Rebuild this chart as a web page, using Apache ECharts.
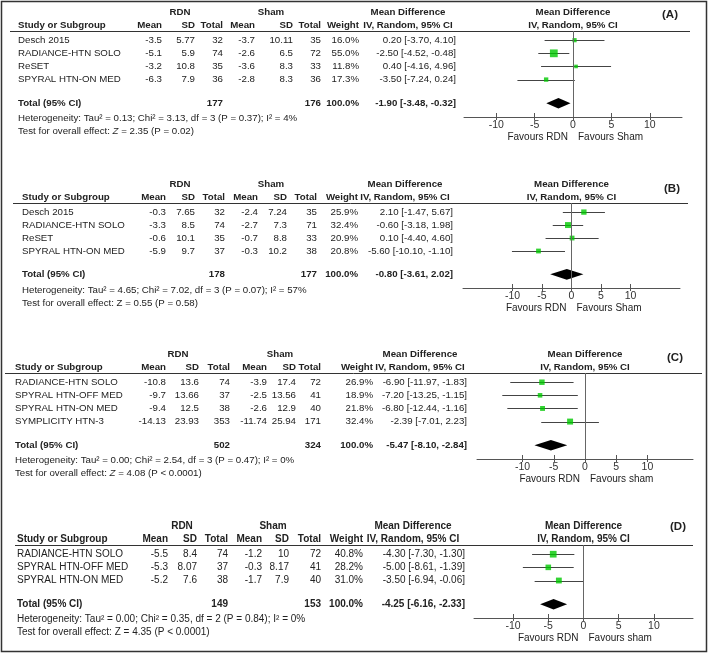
<!DOCTYPE html>
<html><head><meta charset="utf-8">
<script src="https://cdn.jsdelivr.net/npm/echarts@6/dist/echarts.min.js"></script>
<style>html,body{margin:0;padding:0;background:#fff}#c{width:709px;height:654px}</style>
</head><body><div id="c"></div>
<script>
// ---------- Panel A ----------
const A_study = ['Desch 2015','RADIANCE-HTN SOLO','ReSET','SPYRAL HTN-ON MED'];
const A_rdnMean = [-3.5,-5.1,-3.2,-6.3];
const A_rdnSD = [5.77,5.9,10.8,7.9];
const A_rdnN = [32,74,35,36];
const A_shamMean = [-3.7,-2.6,-3.6,-2.8];
const A_shamSD = [10.11,6.5,8.3,8.3];
const A_shamN = [35,72,33,36];
const A_weight = [16.0,55.0,11.8,17.3];
const A_md = [0.20,-2.50,0.40,-3.50];
const A_lo = [-3.70,-4.52,-4.16,-7.24];
const A_hi = [4.10,-0.48,4.96,0.24];
const A_totals = [177,176];
const A_pooled = [-1.90,-3.48,-0.32];
const A_het = 'Heterogeneity: Tau² = 0.13; Chi² = 3.13, df = 3 (P = 0.37); I² = 4%';
const A_test = ['2.35','(P = 0.02)'];

// ---------- Panel B ----------
const B_study = ['Desch 2015','RADIANCE-HTN SOLO','ReSET','SPYRAL HTN-ON MED'];
const B_rdnMean = [-0.3,-3.3,-0.6,-5.9];
const B_rdnSD = [7.65,8.5,10.1,9.7];
const B_rdnN = [32,74,35,37];
const B_shamMean = [-2.4,-2.7,-0.7,-0.3];
const B_shamSD = [7.24,7.3,8.8,10.2];
const B_shamN = [35,71,33,38];
const B_weight = [25.9,32.4,20.9,20.8];
const B_md = [2.10,-0.60,0.10,-5.60];
const B_lo = [-1.47,-3.18,-4.40,-10.10];
const B_hi = [5.67,1.98,4.60,-1.10];
const B_totals = [178,177];
const B_pooled = [-0.80,-3.61,2.02];
const B_het = 'Heterogeneity: Tau² = 4.65; Chi² = 7.02, df = 3 (P = 0.07); I² = 57%';
const B_test = ['0.55','(P = 0.58)'];

// ---------- Panel C ----------
const C_study = ['RADIANCE-HTN SOLO','SPYRAL HTN-OFF MED','SPYRAL HTN-ON MED','SYMPLICITY HTN-3'];
const C_rdnMean = [-10.8,-9.7,-9.4,-14.13];
const C_rdnSD = [13.6,13.66,12.5,23.93];
const C_rdnN = [74,37,38,353];
const C_shamMean = [-3.9,-2.5,-2.6,-11.74];
const C_shamSD = [17.4,13.56,12.9,25.94];
const C_shamN = [72,41,40,171];
const C_weight = [26.9,18.9,21.8,32.4];
const C_md = [-6.90,-7.20,-6.80,-2.39];
const C_lo = [-11.97,-13.25,-12.44,-7.01];
const C_hi = [-1.83,-1.15,-1.16,2.23];
const C_totals = [502,324];
const C_pooled = [-5.47,-8.10,-2.84];
const C_het = 'Heterogeneity: Tau² = 0.00; Chi² = 2.54, df = 3 (P = 0.47); I² = 0%';
const C_test = ['4.08','(P < 0.0001)'];

// ---------- Panel D ----------
const D_study = ['RADIANCE-HTN SOLO','SPYRAL HTN-OFF MED','SPYRAL HTN-ON MED'];
const D_rdnMean = [-5.5,-5.3,-5.2];
const D_rdnSD = [8.4,8.07,7.6];
const D_rdnN = [74,37,38];
const D_shamMean = [-1.2,-0.3,-1.7];
const D_shamSD = [10,8.17,7.9];
const D_shamN = [72,41,40];
const D_weight = [40.8,28.2,31.0];
const D_md = [-4.30,-5.00,-3.50];
const D_lo = [-7.30,-8.61,-6.94];
const D_hi = [-1.30,-1.39,-0.06];
const D_totals = [149,153];
const D_pooled = [-4.25,-6.16,-2.33];
const D_het = 'Heterogeneity: Tau² = 0.00; Chi² = 0.35, df = 2 (P = 0.84); I² = 0%';
const D_test = ['4.35','(P < 0.0001)'];

const tickValues = [-10,-5,0,5,10];
const headerCols = ['Mean','SD','Total','Mean','SD','Total','Weight'];

const panels = [
  {tag:'(A)', study:A_study, rm:A_rdnMean, rs:A_rdnSD, rn:A_rdnN, sm:A_shamMean, ss:A_shamSD, sn:A_shamN, w:A_weight, md:A_md, lo:A_lo, hi:A_hi, tot:A_totals, pool:A_pooled, het:A_het, test:A_test, fav:['Favours RDN','Favours Sham']},
  {tag:'(B)', study:B_study, rm:B_rdnMean, rs:B_rdnSD, rn:B_rdnN, sm:B_shamMean, ss:B_shamSD, sn:B_shamN, w:B_weight, md:B_md, lo:B_lo, hi:B_hi, tot:B_totals, pool:B_pooled, het:B_het, test:B_test, fav:['Favours RDN','Favours Sham']},
  {tag:'(C)', study:C_study, rm:C_rdnMean, rs:C_rdnSD, rn:C_rdnN, sm:C_shamMean, ss:C_shamSD, sn:C_shamN, w:C_weight, md:C_md, lo:C_lo, hi:C_hi, tot:C_totals, pool:C_pooled, het:C_het, test:C_test, fav:['Favours RDN','Favours sham']},
  {tag:'(D)', study:D_study, rm:D_rdnMean, rs:D_rdnSD, rn:D_rdnN, sm:D_shamMean, ss:D_shamSD, sn:D_shamN, w:D_weight, md:D_md, lo:D_lo, hi:D_hi, tot:D_totals, pool:D_pooled, het:D_het, test:D_test, fav:['Favours RDN','Favours sham']}
];

// layout (pixel positions, sizes)
const layout = [
  {line:31, axisY:117, left:464, right:682, min:-14.2, max:14.2, studyX:18, cols:[162,195,223,255,293,321,359], ciX:456, mdX:408, rdnX:180, shamX:271, lineX:[10,690], tagXY:[670,15], fs:9.7, italicZ:true},
  {line:203, axisY:288, left:463, right:680, min:-18.4, max:18.4, studyX:22, cols:[166,195,225,258,287,317,358], ciX:453, mdX:405, rdnX:180, shamX:271, lineX:[13,688], tagXY:[672,189], fs:9.7, italicZ:false},
  {line:373, axisY:459, left:477, right:693, min:-17.3, max:17.3, studyX:15, cols:[166,199,230,267,296,321,373], ciX:467, mdX:420, rdnX:178, shamX:280, lineX:[5,702], tagXY:[675,358], fs:9.7, italicZ:true},
  {line:545, axisY:618, left:474, right:693, min:-15.55, max:15.55, studyX:17, cols:[168,197,228,262,289,321,363], ciX:465, mdX:413, rdnX:182, shamX:273, lineX:[15,693], tagXY:[678,527], fs:10, italicZ:false}
];

const FONT = '"Liberation Sans", Arial, Helvetica, sans-serif';
const chart = echarts.init(document.getElementById('c'), null, {renderer:'canvas'});

const grids=[], xAxes=[], yAxes=[], series=[];
panels.forEach((p,i)=>{
  const L = layout[i], n = p.study.length;
  grids.push({left:L.left, top:L.line, width:L.right-L.left, height:L.axisY-L.line, containLabel:false});
  xAxes.push({gridIndex:i, type:'value', min:L.min, max:L.max, position:'bottom',
    axisLine:{show:true, onZero:false, lineStyle:{color:'#555', width:1}},
    axisTick:{show:true, length:3, customValues:tickValues, lineStyle:{color:'#555'}},
    axisLabel:{show:true, customValues:tickValues, fontSize:10.5, color:'#333', margin:3, fontFamily:FONT},
    splitLine:{show:false}});
  xAxes.push({gridIndex:i, type:'value', min:L.min, max:L.max, position:'bottom',
    axisLine:{show:false, onZero:false},
    axisTick:{show:true, inside:true, length:4, customValues:tickValues, lineStyle:{color:'#555'}},
    axisLabel:{show:false}, splitLine:{show:false}});
  yAxes.push({gridIndex:i, type:'value', min:-0.7, max:n+1.85, inverse:true, show:false});
  // CI lines
  series.push({type:'custom', xAxisIndex:2*i, yAxisIndex:i, silent:true,
    data:p.lo.map((l,k)=>[l,p.hi[k],k]), encode:{x:[0,1], y:2},
    renderItem:(params,api)=>{
      const a=api.coord([api.value(0),api.value(2)]), b=api.coord([api.value(1),api.value(2)]);
      const y=Math.round(a[1])+0.5;
      return {type:'line', shape:{x1:a[0],y1:y,x2:b[0],y2:y}, style:{stroke:'#444', lineWidth:1}};
    },
    markLine:{silent:true, symbol:'none', label:{show:false}, animation:false,
      lineStyle:{color:'#666', type:'solid', width:1}, data:[{xAxis:0}]}
  });
  // squares
  series.push({type:'scatter', xAxisIndex:2*i, yAxisIndex:i, silent:true, symbol:'rect',
    data:p.md.map((m,k)=>[m,k,p.w[k]]),
    symbolSize:(v)=>Math.max(3.6, Math.sqrt(v[2])*1.05),
    itemStyle:{color:'#00c800'}});
  // diamond
  series.push({type:'custom', xAxisIndex:2*i, yAxisIndex:i, silent:true,
    data:[[p.pool[1], p.pool[0], p.pool[2], n+0.8]], encode:{x:[0,1,2], y:3},
    renderItem:(params,api)=>{
      const l=api.coord([api.value(0),api.value(3)]), c=api.coord([api.value(1),api.value(3)]), r=api.coord([api.value(2),api.value(3)]);
      return {type:'polygon', shape:{points:[[l[0],c[1]],[c[0],c[1]-5.3],[r[0],c[1]],[c[0],c[1]+5.3]]}, style:{fill:'#000'}};
    }});
});

chart.setOption({animation:false, grid:grids, xAxis:xAxes, yAxis:yAxes, series:series});

// ---- table text placed with the library's scales ----
const gfx = [];
function T(x,y,text,o){
  o=o||{};
  const st={text:text, fill:'#222', fontSize:o.fs||10, fontFamily:FONT, fontWeight:o.bold?'bold':'normal',
    align:o.align||'left', textAlign:o.align||'left', verticalAlign:'middle', textVerticalAlign:'middle'};
  if(o.rich) st.rich=o.rich;
  gfx.push({type:'text', x:x, y:y, silent:true, style:st});
}
const fmt2 = v=>v.toFixed(2);
const ciStr = (m,l,h)=>fmt2(m)+' ['+fmt2(l)+', '+fmt2(h)+']';

gfx.push({type:'rect', shape:{x:1.5,y:1.5,width:705,height:650}, style:{fill:'none', stroke:'#333', lineWidth:1.5}, silent:true});

panels.forEach((p,i)=>{
  const L=layout[i], n=p.study.length, fs=L.fs;
  const zeroX = chart.convertToPixel({xAxisIndex:2*i}, 0);
  const rowY = k=>chart.convertToPixel({yAxisIndex:i}, k);
  const h1=L.line-19, h2=L.line-6;
  T(L.rdnX,h1,'RDN',{bold:true,align:'center',fs});
  T(L.shamX,h1,'Sham',{bold:true,align:'center',fs});
  T(L.studyX,h2,'Study or Subgroup',{bold:true,fs});
  headerCols.forEach((h,c)=>T(L.cols[c],h2,h,{bold:true,align:'right',fs}));
  T(L.mdX,h1,'Mean Difference',{bold:true,align:'center',fs});
  T(L.mdX,h2,'IV, Random, 95% CI',{bold:true,align:'center',fs});
  T(zeroX,h1,'Mean Difference',{bold:true,align:'center',fs});
  T(zeroX,h2,'IV, Random, 95% CI',{bold:true,align:'center',fs});
  T(L.tagXY[0],L.tagXY[1],p.tag,{bold:true,align:'center',fs:11.5});
  gfx.push({type:'line', silent:true, shape:{x1:L.lineX[0],y1:L.line+0.5,x2:L.lineX[1],y2:L.line+0.5}, style:{stroke:'#333',lineWidth:1}});
  for(let k=0;k<n;k++){
    const y=rowY(k);
    T(L.studyX,y,p.study[k],{fs});
    const vals=[String(p.rm[k]),String(p.rs[k]),String(p.rn[k]),String(p.sm[k]),String(p.ss[k]),String(p.sn[k]),p.w[k].toFixed(1)+'%'];
    vals.forEach((v,c)=>T(L.cols[c],y,v,{align:'right',fs}));
    T(L.ciX,y,ciStr(p.md[k],p.lo[k],p.hi[k]),{align:'right',fs});
  }
  const ty=rowY(n+0.8);
  T(L.studyX,ty,'Total (95% CI)',{bold:true,fs});
  T(L.cols[2],ty,String(p.tot[0]),{bold:true,align:'right',fs});
  T(L.cols[5],ty,String(p.tot[1]),{bold:true,align:'right',fs});
  T(L.cols[6],ty,'100.0%',{bold:true,align:'right',fs});
  T(L.ciX,ty,ciStr(p.pool[0],p.pool[1],p.pool[2]),{bold:true,align:'right',fs});
  T(L.studyX,ty+15.5,p.het,{fs});
  T(L.studyX,ty+28.5,'Test for overall effect: {z|Z} = '+p.test[0]+' '+p.test[1],
    {fs, rich:{z:{fontSize:fs, fontFamily:FONT, fill:'#222', fontStyle:L.italicZ?'italic':'normal'}}});
  T(zeroX-5,L.axisY+20,p.fav[0],{align:'right',fs:10});
  T(zeroX+5,L.axisY+20,p.fav[1],{align:'left',fs:10});
});

chart.setOption({graphic:{elements:gfx}});
</script>
</body></html>
